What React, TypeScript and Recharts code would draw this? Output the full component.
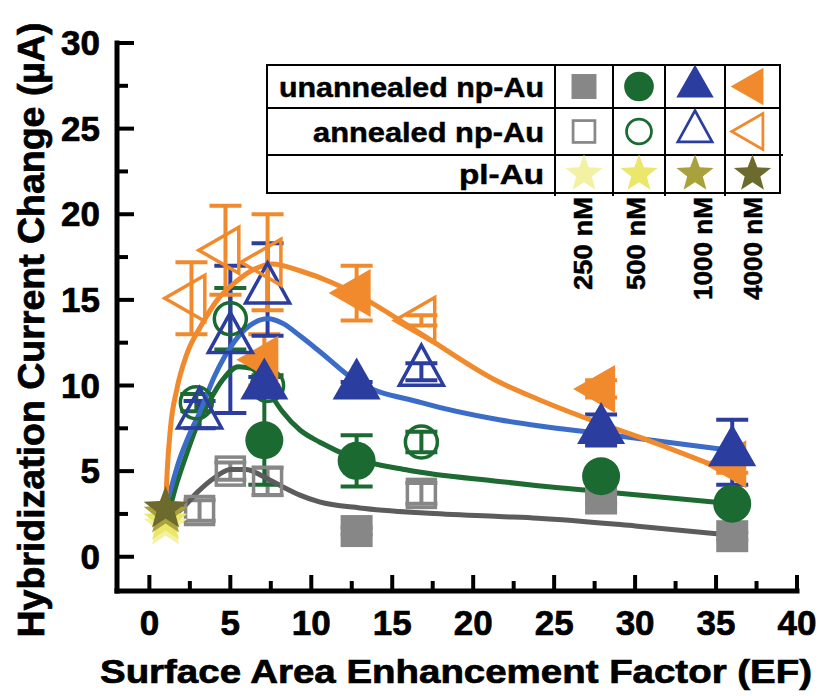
import React from "react";
import { ComposedChart, Scatter, Line, XAxis, YAxis, ErrorBar } from "recharts";

// x = surface area enhancement factor, y = current change (µA), err = error bar half-height
const unannealed250 = [
  { x: 12.8, y: 1.5, err: 0.2 },
  { x: 27.9, y: 3.4, err: 0.3 },
  { x: 36.0, y: 1.2, err: 0.2 },
];
const annealed250 = [
  { x: 3.1, y: 2.7, err: 0.6 },
  { x: 5.0, y: 5.0, err: 0.5 },
  { x: 7.3, y: 4.4, err: 0.8 },
  { x: 16.8, y: 3.7, err: 0.6 },
];
const unannealed500 = [
  { x: 7.1, y: 6.8, err: 2.6 },
  { x: 12.8, y: 5.6, err: 1.5 },
  { x: 27.9, y: 4.7, err: 0.2 },
  { x: 36.0, y: 3.1, err: 0.2 },
];
const annealed500 = [
  { x: 2.9, y: 9.0, err: 0.5 },
  { x: 5.0, y: 13.9, err: 1.8 },
  { x: 7.3, y: 10.0, err: 0.6 },
  { x: 16.8, y: 6.7, err: 0.6 },
];
const unannealed1000 = [
  { x: 7.1, y: 10.0, err: 0.5 },
  { x: 12.8, y: 10.0, err: 0.2 },
  { x: 27.9, y: 7.4, err: 0.9 },
  { x: 36.0, y: 6.1, err: 1.9 },
];
const annealed1000 = [
  { x: 3.1, y: 8.3, err: 0.8 },
  { x: 5.0, y: 12.7, err: 4.3 },
  { x: 7.3, y: 15.6, err: 2.7 },
  { x: 16.8, y: 10.8, err: 0.5 },
];
const unannealed4000 = [
  { x: 7.1, y: 11.5, err: 1.5 },
  { x: 12.8, y: 15.4, err: 1.6 },
  { x: 27.9, y: 9.8, err: 0.5 },
  { x: 36.0, y: 5.4, err: 0.5 },
];
const annealed4000 = [
  { x: 2.6, y: 15.1, err: 2.1 },
  { x: 4.7, y: 17.9, err: 2.6 },
  { x: 7.3, y: 17.2, err: 2.8 },
  { x: 16.8, y: 13.8, err: 0.3 },
];
const plAu250 = [{ x: 1.0, y: 1.8 }];
const plAu500 = [{ x: 1.0, y: 2.1 }];
const plAu1000 = [{ x: 1.0, y: 2.5 }];
const plAu4000 = [{ x: 1.0, y: 2.8 }];

// fitted curves
const fit250 = [
  { x: 1.3, y: 2.3 }, { x: 2, y: 2.8 }, { x: 3, y: 3.8 }, { x: 4, y: 4.6 },
  { x: 5, y: 5.1 }, { x: 6, y: 5.1 }, { x: 7, y: 4.7 }, { x: 8, y: 4.2 },
  { x: 9.3, y: 3.6 }, { x: 10.5, y: 3.2 }, { x: 13, y: 2.85 }, { x: 17, y: 2.55 },
  { x: 21.6, y: 2.35 }, { x: 24, y: 2.25 }, { x: 30, y: 1.8 }, { x: 36, y: 1.25 },
];
const fit500 = [
  { x: 1.2, y: 2.6 }, { x: 1.6, y: 4.0 }, { x: 2.3, y: 6.0 }, { x: 3, y: 7.8 },
  { x: 3.6, y: 8.9 }, { x: 4.5, y: 10.3 }, { x: 5.5, y: 11.1 }, { x: 6.3, y: 11.0 },
  { x: 7.2, y: 9.9 }, { x: 8.2, y: 8.5 }, { x: 9.3, y: 7.4 }, { x: 10.5, y: 6.7 },
  { x: 12.7, y: 5.75 }, { x: 16, y: 5.05 }, { x: 21.6, y: 4.4 }, { x: 24, y: 4.15 },
  { x: 28, y: 3.8 }, { x: 36, y: 3.1 },
];
const fit1000 = [
  { x: 1.2, y: 3.5 }, { x: 1.8, y: 5.5 }, { x: 2.5, y: 7.2 }, { x: 3.1, y: 8.4 },
  { x: 4, y: 10.5 }, { x: 5.2, y: 12.5 }, { x: 6.2, y: 13.5 }, { x: 7.3, y: 13.9 },
  { x: 8.3, y: 13.6 }, { x: 9.3, y: 12.9 }, { x: 10.5, y: 12.0 }, { x: 12.7, y: 10.3 },
  { x: 16.8, y: 9.0 }, { x: 21.6, y: 8.0 }, { x: 24, y: 7.65 }, { x: 27.8, y: 7.2 },
  { x: 36, y: 6.2 },
];
const fit4000 = [
  { x: 1.0, y: 2.9 }, { x: 1.1, y: 5.0 }, { x: 1.3, y: 7.5 }, { x: 1.7, y: 9.8 },
  { x: 2.3, y: 11.8 }, { x: 3.2, y: 13.5 }, { x: 4.2, y: 15.0 }, { x: 5.4, y: 16.1 },
  { x: 6.5, y: 16.8 }, { x: 7.6, y: 17.1 }, { x: 9.3, y: 16.7 }, { x: 11.3, y: 16.0 },
  { x: 13.4, y: 15.0 }, { x: 16.8, y: 13.0 }, { x: 21.6, y: 10.2 }, { x: 24, y: 9.2 },
  { x: 27.8, y: 7.8 }, { x: 30.8, y: 6.8 }, { x: 36, y: 4.9 },
];

const xTicks = [0, 2.5, 5, 7.5, 10, 12.5, 15, 17.5, 20, 22.5, 25, 27.5, 30, 32.5, 35, 37.5, 40];
const yTicks = [0, 2.5, 5, 7.5, 10, 12.5, 15, 17.5, 20, 22.5, 25, 27.5, 30];
const concLabels = ["250 nM", "500 nM", "1000 nM", "4000 nM"];
const rowLabels = ["unannealed np-Au", "annealed np-Au", "pl-Au"];

const GRAY = "#878787";
const GREEN = "#1a6a31";
const BLUE = "#2b3d9f";
const ORANGE = "#f08a2c";
const STARS = ["#f3f1a2", "#ebe76a", "#a9a23c", "#6d6a2e"];
const FONT = "'Liberation Sans', Arial, sans-serif";

type Mk = { cx: number; cy: number; color: string; open?: boolean; s?: number };

function Square({ cx, cy, color, open, s = 1 }: Mk) {
  const a = (open ? 28 : 32) * s;
  return (
    <rect x={cx - a / 2} y={cy - a / 2} width={a} height={a}
      fill={open ? "none" : color} stroke={color} strokeWidth={open ? 3.5 * s : 0} />
  );
}
function Circle({ cx, cy, color, open, s = 1 }: Mk) {
  return (
    <circle cx={cx} cy={cy} r={(open ? 16 : 19) * s}
      fill={open ? "none" : color} stroke={color} strokeWidth={open ? 3.5 * s : 0} />
  );
}
function TriUp({ cx, cy, color, open, s = 1 }: Mk) {
  const w = (open ? 44 : 48) * s;
  const h = (open ? 40 : 42) * s;
  const p = `${cx},${cy - (h * 2) / 3} ${cx - w / 2},${cy + h / 3} ${cx + w / 2},${cy + h / 3}`;
  return <polygon points={p} fill={open ? "none" : color} stroke={color}
    strokeWidth={open ? 3.5 * s : 0} strokeLinejoin="miter" />;
}
function TriLeft({ cx, cy, color, open, s = 1 }: Mk) {
  const w = (open ? 40 : 42) * s;
  const h = (open ? 46 : 48) * s;
  const p = `${cx - (w * 2) / 3},${cy} ${cx + w / 3},${cy - h / 2} ${cx + w / 3},${cy + h / 2}`;
  return <polygon points={p} fill={open ? "none" : color} stroke={color}
    strokeWidth={open ? 3.5 * s : 0} />;
}
function Star({ cx, cy, color, s = 1 }: Mk) {
  const R = 23 * s;
  const r = R * 0.42;
  const pts: string[] = [];
  for (let i = 0; i < 10; i++) {
    const ang = -Math.PI / 2 + (i * Math.PI) / 5;
    const rad = i % 2 === 0 ? R : r;
    pts.push(`${cx + rad * Math.cos(ang)},${cy + rad * Math.sin(ang)}`);
  }
  return <polygon points={pts.join(" ")} fill={color} />;
}

const shapeOf = (Comp: any, color: string, open?: boolean) => (props: any) =>
  <Comp cx={props.cx} cy={props.cy} color={color} open={open} />;

const labelStyle = {
  fontWeight: "bold" as const,
  fontFamily: FONT,
  stroke: "#000",
  strokeWidth: 0.7,
};

const BottomTick = ({ x, y, payload }: any) => {
  const v = payload.value;
  const major = v % 5 === 0;
  return (
    <g>
      <line x1={x} x2={x} y1={y} y2={y - (major ? 16 : 10)} stroke="#000" strokeWidth={4} />
      {major && (
        <text x={x} y={y + 44} textAnchor="middle" fontSize={35} style={labelStyle}>
          {v}
        </text>
      )}
    </g>
  );
};
const TopTick = ({ x, y, payload }: any) => {
  const major = payload.value % 5 === 0;
  return <line x1={x} x2={x} y1={y} y2={y + (major ? 16 : 10)} stroke="#000" strokeWidth={4} />;
};
const LeftTick = ({ x, y, payload }: any) => {
  const v = payload.value;
  const major = v % 5 === 0;
  return (
    <g>
      <line x1={x} x2={x + (major ? 17 : 11)} y1={y} y2={y} stroke="#000" strokeWidth={4} />
      {major && (
        <text x={x - 17} y={y + 12} textAnchor="end" fontSize={35} style={labelStyle}>
          {v}
        </text>
      )}
    </g>
  );
};
const RightTick = ({ x, y, payload }: any) => {
  const major = payload.value % 5 === 0;
  return <line x1={x} x2={x - (major ? 17 : 11)} y1={y} y2={y} stroke="#000" strokeWidth={4} />;
};

const axisLine = { stroke: "#000", strokeWidth: 5, strokeLinecap: "square" as const };

function Legend() {
  const colX = [555, 613, 665, 725, 780];
  const rowY = [65, 108, 155, 193];
  const textW = [265, 231, 85];
  const concW = [93, 93, 103, 103];
  const symbols: any[][] = [
    [[Square, GRAY, false], [Circle, GREEN, false], [TriUp, BLUE, false], [TriLeft, ORANGE, false]],
    [[Square, GRAY, true], [Circle, GREEN, true], [TriUp, BLUE, true], [TriLeft, ORANGE, true]],
    [[Star, STARS[0]], [Star, STARS[1]], [Star, STARS[2]], [Star, STARS[3]]],
  ];
  return (
    <g>
      <rect x={267} y={65} width={513} height={128} fill="#fff" stroke="#000" strokeWidth={2} />
      <line x1={267} x2={780} y1={108} y2={108} stroke="#000" strokeWidth={2} />
      <line x1={267} x2={783} y1={155} y2={155} stroke="#000" strokeWidth={2} />
      {colX.slice(0, 4).map((cx) => (
        <line key={cx} x1={cx} x2={cx} y1={65} y2={196} stroke="#000" strokeWidth={2} />
      ))}
      {rowLabels.map((t, i) => (
        <text key={t} x={544} y={(rowY[i] + rowY[i + 1]) / 2 + 10} textAnchor="end"
          fontSize={28} style={{ ...labelStyle, strokeWidth: 0.5 }}
          textLength={textW[i]} lengthAdjust="spacingAndGlyphs">
          {t}
        </text>
      ))}
      {symbols.map((row, r) =>
        row.map(([Comp, color, open], c) => (
          <Comp key={`${r}-${c}`} cx={(colX[c] + colX[c + 1]) / 2} cy={(rowY[r] + rowY[r + 1]) / 2}
            color={color} open={open} s={r === 2 ? 0.85 : 0.78} />
        ))
      )}
      {concLabels.map((t, i) => {
        const cx = [582, 635, 702, 752][i];
        return (
          <text key={t} x={0} y={0} transform={`translate(${cx + 10},197) rotate(-90)`}
            textAnchor="end" fontSize={26} style={{ ...labelStyle, strokeWidth: 0.5 }}
            textLength={concW[i]} lengthAdjust="spacingAndGlyphs">
            {t}
          </text>
        );
      })}
    </g>
  );
}

export default function App() {
  return (
    <div style={{ position: "absolute", left: 0, top: 0, width: 822, height: 696, background: "#fff" }}>
      <ComposedChart width={822} height={696} margin={{ top: 43, right: 25, left: 0, bottom: 0 }}>
        <XAxis dataKey="x" type="number" domain={[-2, 40]} ticks={xTicks} allowDataOverflow
          height={105} tickSize={0} tickMargin={0} tickLine={false} axisLine={axisLine}
          tick={<BottomTick />} interval={0} />
        <XAxis xAxisId="top" orientation="top" type="number" domain={[-2, 40]} ticks={xTicks}
          allowDataOverflow height={0} tickSize={0} tickMargin={0} tickLine={false}
          axisLine={axisLine} tick={<TopTick />} interval={0} />
        <YAxis dataKey="y" type="number" domain={[-2, 30]} ticks={yTicks} allowDataOverflow
          width={117} tickSize={0} tickMargin={0} tickLine={false} axisLine={axisLine}
          tick={<LeftTick />} interval={0} />
        <YAxis yAxisId="right" orientation="right" type="number" domain={[-2, 30]} ticks={yTicks}
          allowDataOverflow width={0} tickSize={0} tickMargin={0} tickLine={false}
          axisLine={axisLine} tick={<RightTick />} interval={0} />

        <Scatter data={unannealed250} shape={shapeOf(Square, GRAY)} isAnimationActive={false}>
          <ErrorBar dataKey="err" direction="y" width={16} strokeWidth={4} stroke={GRAY} />
        </Scatter>
        <Scatter data={annealed250} shape={shapeOf(Square, GRAY, true)} isAnimationActive={false}>
          <ErrorBar dataKey="err" direction="y" width={16} strokeWidth={4} stroke={GRAY} />
        </Scatter>
        <Scatter data={unannealed500} shape={shapeOf(Circle, GREEN)} isAnimationActive={false}>
          <ErrorBar dataKey="err" direction="y" width={16} strokeWidth={4} stroke={GREEN} />
        </Scatter>
        <Scatter data={annealed500} shape={shapeOf(Circle, GREEN, true)} isAnimationActive={false}>
          <ErrorBar dataKey="err" direction="y" width={16} strokeWidth={4} stroke={GREEN} />
        </Scatter>
        <Scatter data={unannealed4000} shape={shapeOf(TriLeft, ORANGE)} isAnimationActive={false}>
          <ErrorBar dataKey="err" direction="y" width={16} strokeWidth={4} stroke={ORANGE} />
        </Scatter>
        <Scatter data={unannealed1000} shape={shapeOf(TriUp, BLUE)} isAnimationActive={false}>
          <ErrorBar dataKey="err" direction="y" width={16} strokeWidth={4} stroke={BLUE} />
        </Scatter>
        <Scatter data={annealed1000} shape={shapeOf(TriUp, BLUE, true)} isAnimationActive={false}>
          <ErrorBar dataKey="err" direction="y" width={16} strokeWidth={4} stroke={BLUE} />
        </Scatter>
        <Scatter data={annealed4000} shape={shapeOf(TriLeft, ORANGE, true)} isAnimationActive={false}>
          <ErrorBar dataKey="err" direction="y" width={16} strokeWidth={4} stroke={ORANGE} />
        </Scatter>
        <Scatter data={plAu250} shape={shapeOf(Star, STARS[0])} isAnimationActive={false} />
        <Scatter data={plAu500} shape={shapeOf(Star, STARS[1])} isAnimationActive={false} />
        <Scatter data={plAu1000} shape={shapeOf(Star, STARS[2])} isAnimationActive={false} />
        <Scatter data={plAu4000} shape={shapeOf(Star, STARS[3])} isAnimationActive={false} />

        <Line data={fit250} dataKey="y" type="monotone" stroke="#5c5c5c" strokeWidth={5}
          dot={false} activeDot={false} isAnimationActive={false} />
        <Line data={fit500} dataKey="y" type="monotone" stroke="#1d6b33" strokeWidth={5}
          dot={false} activeDot={false} isAnimationActive={false} />
        <Line data={fit1000} dataKey="y" type="monotone" stroke="#3a6cc8" strokeWidth={5}
          dot={false} activeDot={false} isAnimationActive={false} />
        <Line data={fit4000} dataKey="y" type="monotone" stroke={ORANGE} strokeWidth={5}
          dot={false} activeDot={false} isAnimationActive={false} />
      </ComposedChart>
      <svg width={822} height={696} style={{ position: "absolute", left: 0, top: 0, pointerEvents: "none" }}>
        <Legend />
        <text transform="translate(44,330) rotate(-90)" textAnchor="middle" fontSize={36}
          style={labelStyle} textLength={615} lengthAdjust="spacingAndGlyphs">
          Hybridization Current Change (µA)
        </text>
        <text x={456} y={683} textAnchor="middle" fontSize={33} style={labelStyle}
          textLength={712} lengthAdjust="spacingAndGlyphs">
          Surface Area Enhancement Factor (EF)
        </text>
      </svg>
    </div>
  );
}
